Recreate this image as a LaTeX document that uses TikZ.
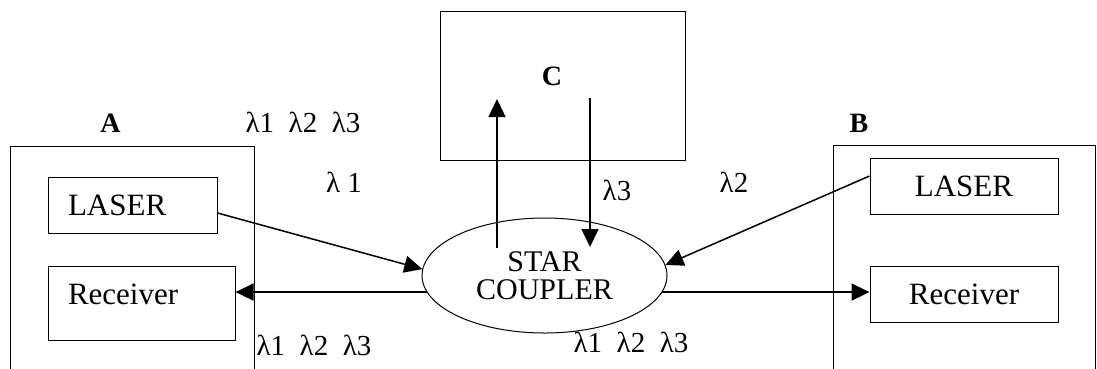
\documentclass[tikz,border=0pt]{standalone}
\usepackage{fontspec}
\setmainfont{Liberation Serif}
\usetikzlibrary{arrows.meta,positioning,shapes.geometric}

\begin{document}
\begin{tikzpicture}[x=1pt,y=-1pt,
  box/.style={draw,line width=1pt,inner sep=0pt},
  unit/.style={box,font=\fontsize{31}{36}\selectfont},
  tag/.style={font=\fontsize{28}{30}\selectfont\bfseries},
  lam/.style={font=\fontsize{29}{30}\selectfont,inner sep=0pt},
  link/.style={line width=1.5pt,-{Triangle[length=18pt,width=17pt]}}]
\clip (0,0) rectangle (1097,368);
\fill[white] (0,0) rectangle (1097,368);
% Station A
\node[box,minimum width=244pt,minimum height=260pt] (boxA) at (132,276) {};
\node[tag] (tagA) at (110.5,123.5) {A};
\node[unit,text width=129pt,inner xsep=20pt,minimum height=56pt,align=left] (laserA) at (132.5,205) {LASER};
\node[unit,text width=147pt,inner xsep=20pt,text height=38pt,text depth=36pt,align=left] (recvA) at (141.5,303) {Receiver};
% Station B
\node[box,minimum width=262pt,minimum height=260pt] (boxB) at (964,275) {};
\node[tag] (tagB) at (859,123) {B};
\node[unit,minimum width=188pt,minimum height=56pt] (laserB) at (964,186) {LASER};
\node[unit,minimum width=188pt,minimum height=56pt] (recvB) at (964,294) {Receiver};
% Station C
\node[box,minimum width=245pt,minimum height=149pt] (boxC) at (562.5,85.5) {};
\node[tag] (tagC) at (552,76) {C};
% Star coupler
\node[draw,ellipse,line width=1pt,inner sep=0pt,minimum width=245pt,minimum height=115pt,
  align=center,font=\fontsize{30}{28}\selectfont] (coupler) at (544.5,275.5) {STAR\\COUPLER};
\coordinate (upS) at (497,248);
\coordinate (upE) at (497,99);
\coordinate (dnS) at (590,98);
\coordinate (dnE) at (590,247);
% Wavelength labels
\node[lam] (lamTop) at (303,122) {λ1~~λ2~~λ3};
\node[lam] (lamA) at (344,182) {λ~1};
\node[lam] (lamBL) at (314,345) {λ1~~λ2~~λ3};
\node[lam] (lamC) at (617,190) {λ3};
\node[lam] (lamB) at (734,182) {λ2};
\node[lam] (lamBR) at (631,342) {λ1~~λ2~~λ3};
% Links
\draw[link] ([yshift=-8pt]laserA.east) -- (coupler.177);
\draw[link] (coupler.188) -- (coupler.188 -| recvA.east);
\draw[link] ([yshift=10pt]laserB.west) -- (coupler.5);
\draw[link] (coupler.-8.5) -- (coupler.-8.5 -| recvB.west);
\draw[link] (upS) -- (upE);
\draw[link] (dnS) -- (dnE);
\end{tikzpicture}
\end{document}
